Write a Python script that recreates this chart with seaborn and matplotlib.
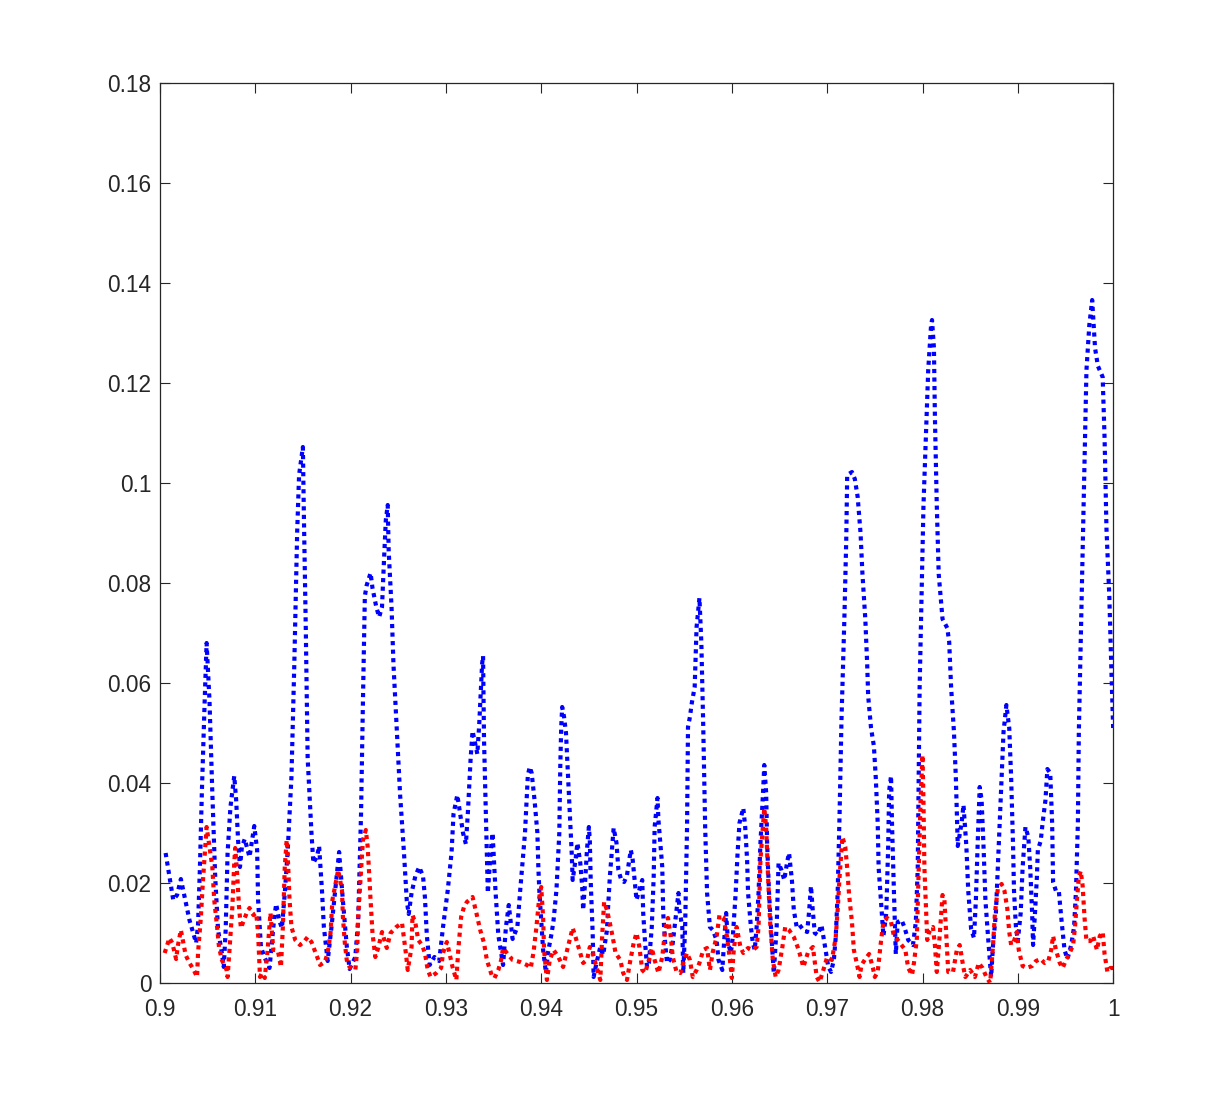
import numpy as np
import pandas as pd
import matplotlib
matplotlib.use("Agg")
import matplotlib.pyplot as plt
import seaborn as sns

# blue series (upper dotted curve)
blue_x = [0.9006, 0.9014, 0.9018, 0.9022, 0.9026, 0.9031, 0.9038, 0.9040, 0.9042, 0.9044,
          0.9047, 0.9049, 0.9052, 0.9055, 0.9058, 0.9061, 0.9065, 0.9067, 0.9069, 0.9071,
          0.9074, 0.9078, 0.9080, 0.9082, 0.9084, 0.9086, 0.9089, 0.9094, 0.9099, 0.9102,
          0.9103, 0.9106, 0.9110, 0.9115, 0.9120, 0.9122, 0.9125, 0.9128, 0.9131, 0.9134,
          0.9138, 0.9141, 0.9144, 0.9146, 0.9150, 0.9151, 0.9153, 0.9155, 0.9159, 0.9161,
          0.9165, 0.9167, 0.9170, 0.9172, 0.9176, 0.9180, 0.9184, 0.9188, 0.9192, 0.9196,
          0.9199, 0.9205, 0.9208, 0.9211, 0.9213, 0.9215, 0.9217, 0.9221, 0.9223, 0.9227,
          0.9230, 0.9233, 0.9235, 0.9237, 0.9239, 0.9240, 0.9243, 0.9245, 0.9249, 0.9252,
          0.9256, 0.9259, 0.9261, 0.9264, 0.9268, 0.9272, 0.9276, 0.9278, 0.9280, 0.9283,
          0.9288, 0.9293, 0.9297, 0.9302, 0.9306, 0.9308, 0.9312, 0.9315, 0.9318, 0.9321,
          0.9323, 0.9326, 0.9328, 0.9333, 0.9335, 0.9338, 0.9339, 0.9340, 0.9342, 0.9344,
          0.9347, 0.9349, 0.9352, 0.9355, 0.9360, 0.9363, 0.9366, 0.9370, 0.9375, 0.9378,
          0.9383, 0.9386, 0.9388, 0.9390, 0.9391, 0.9393, 0.9396, 0.9397, 0.9398, 0.9400,
          0.9402, 0.9405, 0.9407, 0.9411, 0.9413, 0.9416, 0.9419, 0.9420, 0.9421, 0.9422,
          0.9424, 0.9426, 0.9428, 0.9430, 0.9432, 0.9433, 0.9436, 0.9438, 0.9441, 0.9443,
          0.9444, 0.9446, 0.9448, 0.9450, 0.9451, 0.9452, 0.9454, 0.9455, 0.9458, 0.9462,
          0.9465, 0.9469, 0.9470, 0.9472, 0.9474, 0.9476, 0.9479, 0.9481, 0.9484, 0.9487,
          0.9490, 0.9494, 0.9496, 0.9498, 0.9500, 0.9502, 0.9506, 0.9507, 0.9509, 0.9511,
          0.9513, 0.9516, 0.9518, 0.9519, 0.9522, 0.9523, 0.9527, 0.9528, 0.9530, 0.9532,
          0.9535, 0.9538, 0.9542, 0.9544, 0.9545, 0.9548, 0.9549, 0.9551, 0.9553, 0.9554,
          0.9556, 0.9558, 0.9561, 0.9563, 0.9566, 0.9568, 0.9570, 0.9572, 0.9574, 0.9577,
          0.9580, 0.9584, 0.9586, 0.9590, 0.9592, 0.9594, 0.9596, 0.9599, 0.9601, 0.9604,
          0.9606, 0.9608, 0.9612, 0.9614, 0.9616, 0.9617, 0.9620, 0.9622, 0.9624, 0.9626,
          0.9628, 0.9630, 0.9633, 0.9634, 0.9636, 0.9637, 0.9639, 0.9642, 0.9644, 0.9647,
          0.9649, 0.9652, 0.9655, 0.9658, 0.9660, 0.9663, 0.9665, 0.9668, 0.9671, 0.9675,
          0.9679, 0.9681, 0.9683, 0.9685, 0.9687, 0.9690, 0.9694, 0.9698, 0.9701, 0.9704,
          0.9707, 0.9709, 0.9711, 0.9713, 0.9715, 0.9718, 0.9720, 0.9721, 0.9726, 0.9729,
          0.9732, 0.9735, 0.9737, 0.9740, 0.9742, 0.9743, 0.9746, 0.9749, 0.9751, 0.9753,
          0.9754, 0.9756, 0.9759, 0.9762, 0.9764, 0.9765, 0.9767, 0.9768, 0.9770, 0.9772,
          0.9774, 0.9778, 0.9781, 0.9785, 0.9790, 0.9793, 0.9795, 0.9796, 0.9797, 0.9799,
          0.9801, 0.9804, 0.9806, 0.9809, 0.9810, 0.9812, 0.9813, 0.9815, 0.9817, 0.9821,
          0.9826, 0.9828, 0.9830, 0.9833, 0.9835, 0.9837, 0.9841, 0.9843, 0.9846, 0.9848,
          0.9851, 0.9854, 0.9856, 0.9858, 0.9860, 0.9862, 0.9864, 0.9866, 0.9869, 0.9872,
          0.9874, 0.9877, 0.9880, 0.9883, 0.9885, 0.9888, 0.9891, 0.9893, 0.9895, 0.9896,
          0.9898, 0.9900, 0.9903, 0.9905, 0.9908, 0.9911, 0.9913, 0.9915, 0.9916, 0.9918,
          0.9920, 0.9921, 0.9924, 0.9926, 0.9929, 0.9931, 0.9934, 0.9936, 0.9937, 0.9940,
          0.9943, 0.9946, 0.9949, 0.9952, 0.9956, 0.9959, 0.9961, 0.9963, 0.9964, 0.9966,
          0.9968, 0.9970, 0.9972, 0.9975, 0.9978, 0.9979, 0.9981, 0.9984, 0.9989, 0.9991,
          0.9993, 0.9996, 0.9998, 1.0000]
blue_y = [0.0260, 0.0166, 0.0176, 0.0208, 0.0172, 0.0126, 0.0080, 0.0116, 0.0232, 0.0380,
          0.0566, 0.0680, 0.0566, 0.0380, 0.0212, 0.0106, 0.0060, 0.0032, 0.0106, 0.0260,
          0.0352, 0.0414, 0.0366, 0.0286, 0.0232, 0.0272, 0.0288, 0.0252, 0.0314, 0.0266,
          0.0166, 0.0072, 0.0050, 0.0030, 0.0132, 0.0158, 0.0126, 0.0110, 0.0180, 0.0262,
          0.0412, 0.0638, 0.0902, 0.1016, 0.1072, 0.0940, 0.0714, 0.0450, 0.0300, 0.0240,
          0.0254, 0.0274, 0.0186, 0.0112, 0.0044, 0.0112, 0.0186, 0.0262, 0.0164, 0.0074,
          0.0028, 0.0052, 0.0126, 0.0338, 0.0564, 0.0774, 0.0796, 0.0820, 0.0790, 0.0752,
          0.0732, 0.0752, 0.0842, 0.0926, 0.0956, 0.0864, 0.0752, 0.0638, 0.0488, 0.0376,
          0.0262, 0.0164, 0.0138, 0.0180, 0.0214, 0.0232, 0.0214, 0.0172, 0.0096, 0.0036,
          0.0052, 0.0044, 0.0112, 0.0186, 0.0262, 0.0338, 0.0376, 0.0338, 0.0300, 0.0278,
          0.0338, 0.0450, 0.0504, 0.0458, 0.0518, 0.0638, 0.0654, 0.0488, 0.0338, 0.0180,
          0.0262, 0.0300, 0.0186, 0.0096, 0.0036, 0.0112, 0.0156, 0.0088, 0.0112, 0.0186,
          0.0300, 0.0416, 0.0432, 0.0420, 0.0402, 0.0366, 0.0300, 0.0232, 0.0186, 0.0126,
          0.0066, 0.0020, 0.0060, 0.0100, 0.0126, 0.0186, 0.0300, 0.0432, 0.0512, 0.0552,
          0.0532, 0.0500, 0.0420, 0.0340, 0.0260, 0.0206, 0.0246, 0.0280, 0.0240, 0.0192,
          0.0146, 0.0200, 0.0266, 0.0312, 0.0286, 0.0200, 0.0100, 0.0012, 0.0040, 0.0072,
          0.0056, 0.0106, 0.0146, 0.0212, 0.0260, 0.0310, 0.0280, 0.0226, 0.0206, 0.0202,
          0.0216, 0.0266, 0.0246, 0.0206, 0.0166, 0.0180, 0.0206, 0.0140, 0.0080, 0.0032,
          0.0040, 0.0112, 0.0212, 0.0312, 0.0370, 0.0326, 0.0232, 0.0140, 0.0080, 0.0040,
          0.0046, 0.0080, 0.0146, 0.0180, 0.0146, 0.0112, 0.0020, 0.0112, 0.0312, 0.0512,
          0.0532, 0.0560, 0.0592, 0.0712, 0.0770, 0.0680, 0.0512, 0.0312, 0.0180, 0.0112,
          0.0106, 0.0086, 0.0046, 0.0026, 0.0086, 0.0140, 0.0080, 0.0060, 0.0092, 0.0180,
          0.0260, 0.0320, 0.0350, 0.0312, 0.0246, 0.0180, 0.0112, 0.0080, 0.0066, 0.0112,
          0.0180, 0.0280, 0.0392, 0.0436, 0.0380, 0.0280, 0.0180, 0.0080, 0.0020, 0.0112,
          0.0240, 0.0226, 0.0206, 0.0242, 0.0260, 0.0206, 0.0146, 0.0112, 0.0116, 0.0106,
          0.0102, 0.0142, 0.0194, 0.0142, 0.0100, 0.0096, 0.0116, 0.0070, 0.0034, 0.0022,
          0.0046, 0.0092, 0.0180, 0.0336, 0.0526, 0.0726, 0.0886, 0.1016, 0.1022, 0.1008,
          0.0972, 0.0900, 0.0818, 0.0728, 0.0636, 0.0574, 0.0510, 0.0474, 0.0410, 0.0320,
          0.0230, 0.0176, 0.0094, 0.0140, 0.0274, 0.0384, 0.0414, 0.0320, 0.0184, 0.0058,
          0.0122, 0.0126, 0.0112, 0.0086, 0.0076, 0.0122, 0.0230, 0.0410, 0.0592, 0.0772,
          0.0954, 0.1116, 0.1226, 0.1316, 0.1326, 0.1270, 0.1134, 0.0954, 0.0818, 0.0728,
          0.0710, 0.0682, 0.0592, 0.0502, 0.0410, 0.0274, 0.0320, 0.0356, 0.0274, 0.0184,
          0.0108, 0.0090, 0.0166, 0.0286, 0.0392, 0.0366, 0.0274, 0.0166, 0.0086, 0.0012,
          0.0076, 0.0140, 0.0274, 0.0410, 0.0502, 0.0556, 0.0510, 0.0410, 0.0274, 0.0184,
          0.0112, 0.0084, 0.0140, 0.0230, 0.0312, 0.0292, 0.0230, 0.0140, 0.0076, 0.0140,
          0.0212, 0.0266, 0.0284, 0.0320, 0.0366, 0.0428, 0.0420, 0.0320, 0.0202, 0.0184,
          0.0184, 0.0122, 0.0066, 0.0048, 0.0076, 0.0112, 0.0184, 0.0320, 0.0502, 0.0682,
          0.0864, 0.1044, 0.1226, 0.1316, 0.1366, 0.1334, 0.1270, 0.1234, 0.1212, 0.1090,
          0.0908, 0.0772, 0.0636, 0.0510]

# red series (lower dotted curve)
red_x = [0.9005, 0.9010, 0.9013, 0.9017, 0.9019, 0.9022, 0.9024, 0.9027, 0.9031, 0.9035,
         0.9039, 0.9040, 0.9043, 0.9045, 0.9048, 0.9049, 0.9051, 0.9055, 0.9057, 0.9060,
         0.9062, 0.9065, 0.9070, 0.9071, 0.9073, 0.9076, 0.9078, 0.9079, 0.9081, 0.9083,
         0.9085, 0.9087, 0.9091, 0.9094, 0.9098, 0.9101, 0.9103, 0.9105, 0.9107, 0.9110,
         0.9113, 0.9116, 0.9119, 0.9122, 0.9124, 0.9127, 0.9129, 0.9131, 0.9133, 0.9134,
         0.9136, 0.9138, 0.9142, 0.9147, 0.9151, 0.9155, 0.9159, 0.9165, 0.9168, 0.9173,
         0.9176, 0.9179, 0.9181, 0.9185, 0.9187, 0.9188, 0.9191, 0.9192, 0.9194, 0.9196,
         0.9199, 0.9205, 0.9207, 0.9208, 0.9211, 0.9213, 0.9216, 0.9218, 0.9221, 0.9223,
         0.9226, 0.9229, 0.9233, 0.9238, 0.9242, 0.9248, 0.9254, 0.9258, 0.9260, 0.9264,
         0.9265, 0.9268, 0.9271, 0.9275, 0.9278, 0.9281, 0.9284, 0.9290, 0.9295, 0.9297,
         0.9301, 0.9303, 0.9307, 0.9311, 0.9313, 0.9316, 0.9319, 0.9322, 0.9328, 0.9332,
         0.9336, 0.9340, 0.9343, 0.9348, 0.9351, 0.9355, 0.9358, 0.9360, 0.9364, 0.9370,
         0.9378, 0.9385, 0.9389, 0.9392, 0.9395, 0.9398, 0.9400, 0.9402, 0.9403, 0.9406,
         0.9409, 0.9413, 0.9418, 0.9423, 0.9428, 0.9433, 0.9436, 0.9440, 0.9444, 0.9448,
         0.9451, 0.9454, 0.9458, 0.9462, 0.9464, 0.9466, 0.9469, 0.9472, 0.9475, 0.9478,
         0.9483, 0.9486, 0.9490, 0.9493, 0.9497, 0.9500, 0.9503, 0.9506, 0.9509, 0.9513,
         0.9516, 0.9519, 0.9523, 0.9527, 0.9530, 0.9533, 0.9536, 0.9538, 0.9542, 0.9546,
         0.9549, 0.9553, 0.9556, 0.9559, 0.9563, 0.9566, 0.9570, 0.9574, 0.9577, 0.9580,
         0.9584, 0.9587, 0.9591, 0.9595, 0.9598, 0.9600, 0.9602, 0.9605, 0.9609, 0.9612,
         0.9617, 0.9622, 0.9626, 0.9628, 0.9630, 0.9633, 0.9634, 0.9636, 0.9638, 0.9640,
         0.9643, 0.9646, 0.9649, 0.9653, 0.9656, 0.9660, 0.9665, 0.9669, 0.9671, 0.9675,
         0.9680, 0.9685, 0.9689, 0.9692, 0.9696, 0.9700, 0.9705, 0.9709, 0.9711, 0.9713,
         0.9716, 0.9719, 0.9721, 0.9723, 0.9726, 0.9728, 0.9731, 0.9734, 0.9736, 0.9740,
         0.9744, 0.9748, 0.9750, 0.9753, 0.9756, 0.9759, 0.9763, 0.9767, 0.9770, 0.9774,
         0.9778, 0.9782, 0.9785, 0.9789, 0.9791, 0.9794, 0.9796, 0.9798, 0.9800, 0.9801,
         0.9802, 0.9805, 0.9807, 0.9811, 0.9813, 0.9815, 0.9818, 0.9821, 0.9823, 0.9825,
         0.9827, 0.9832, 0.9836, 0.9839, 0.9843, 0.9845, 0.9850, 0.9855, 0.9859, 0.9863,
         0.9867, 0.9871, 0.9874, 0.9876, 0.9879, 0.9883, 0.9886, 0.9889, 0.9891, 0.9893,
         0.9896, 0.9899, 0.9901, 0.9905, 0.9909, 0.9915, 0.9919, 0.9924, 0.9928, 0.9932,
         0.9935, 0.9937, 0.9940, 0.9944, 0.9947, 0.9951, 0.9954, 0.9958, 0.9960, 0.9962,
         0.9964, 0.9966, 0.9968, 0.9970, 0.9972, 0.9976, 0.9979, 0.9983, 0.9986, 0.9989,
         0.9991, 0.9994, 0.9997, 1.0000]
red_y = [0.0060, 0.0090, 0.0080, 0.0048, 0.0076, 0.0106, 0.0086, 0.0056, 0.0040, 0.0028,
         0.0012, 0.0060, 0.0132, 0.0200, 0.0286, 0.0312, 0.0286, 0.0232, 0.0166, 0.0112,
         0.0072, 0.0046, 0.0026, 0.0012, 0.0066, 0.0152, 0.0240, 0.0270, 0.0220, 0.0152,
         0.0110, 0.0120, 0.0140, 0.0150, 0.0136, 0.0140, 0.0100, 0.0012, 0.0020, 0.0010,
         0.0066, 0.0140, 0.0066, 0.0066, 0.0062, 0.0032, 0.0112, 0.0232, 0.0286, 0.0260,
         0.0166, 0.0112, 0.0086, 0.0076, 0.0082, 0.0092, 0.0082, 0.0052, 0.0036, 0.0042,
         0.0060, 0.0100, 0.0166, 0.0206, 0.0226, 0.0216, 0.0186, 0.0132, 0.0080, 0.0046,
         0.0032, 0.0026, 0.0066, 0.0132, 0.0226, 0.0286, 0.0306, 0.0272, 0.0166, 0.0100,
         0.0052, 0.0070, 0.0102, 0.0070, 0.0100, 0.0112, 0.0120, 0.0060, 0.0026, 0.0072,
         0.0136, 0.0120, 0.0086, 0.0076, 0.0060, 0.0026, 0.0012, 0.0020, 0.0030, 0.0060,
         0.0082, 0.0066, 0.0032, 0.0006, 0.0066, 0.0132, 0.0152, 0.0162, 0.0172, 0.0140,
         0.0106, 0.0080, 0.0046, 0.0016, 0.0010, 0.0026, 0.0046, 0.0070, 0.0060, 0.0046,
         0.0042, 0.0036, 0.0030, 0.0062, 0.0112, 0.0172, 0.0192, 0.0132, 0.0066, 0.0006,
         0.0046, 0.0066, 0.0052, 0.0032, 0.0072, 0.0110, 0.0092, 0.0066, 0.0040, 0.0046,
         0.0072, 0.0060, 0.0032, 0.0006, 0.0096, 0.0162, 0.0146, 0.0120, 0.0092, 0.0060,
         0.0046, 0.0020, 0.0006, 0.0040, 0.0080, 0.0100, 0.0072, 0.0026, 0.0020, 0.0046,
         0.0070, 0.0046, 0.0020, 0.0052, 0.0106, 0.0130, 0.0092, 0.0052, 0.0022, 0.0020,
         0.0040, 0.0060, 0.0046, 0.0012, 0.0026, 0.0040, 0.0066, 0.0070, 0.0026, 0.0062,
         0.0092, 0.0136, 0.0132, 0.0092, 0.0046, 0.0010, 0.0066, 0.0112, 0.0072, 0.0060,
         0.0070, 0.0066, 0.0072, 0.0112, 0.0246, 0.0326, 0.0350, 0.0312, 0.0212, 0.0126,
         0.0046, 0.0012, 0.0026, 0.0072, 0.0112, 0.0106, 0.0092, 0.0072, 0.0060, 0.0032,
         0.0062, 0.0072, 0.0012, 0.0002, 0.0026, 0.0052, 0.0046, 0.0092, 0.0146, 0.0212,
         0.0292, 0.0272, 0.0230, 0.0176, 0.0122, 0.0066, 0.0040, 0.0012, 0.0036, 0.0048,
         0.0058, 0.0030, 0.0012, 0.0022, 0.0076, 0.0122, 0.0130, 0.0122, 0.0094, 0.0086,
         0.0076, 0.0066, 0.0030, 0.0016, 0.0040, 0.0086, 0.0230, 0.0366, 0.0456, 0.0366,
         0.0230, 0.0086, 0.0102, 0.0112, 0.0076, 0.0022, 0.0094, 0.0176, 0.0166, 0.0094,
         0.0022, 0.0022, 0.0066, 0.0076, 0.0030, 0.0012, 0.0026, 0.0012, 0.0040, 0.0030,
         0.0012, 0.0000, 0.0076, 0.0140, 0.0188, 0.0198, 0.0184, 0.0148, 0.0102, 0.0076,
         0.0084, 0.0102, 0.0066, 0.0034, 0.0030, 0.0034, 0.0044, 0.0048, 0.0040, 0.0044,
         0.0066, 0.0094, 0.0066, 0.0040, 0.0030, 0.0048, 0.0058, 0.0076, 0.0112, 0.0166,
         0.0212, 0.0224, 0.0194, 0.0130, 0.0084, 0.0084, 0.0094, 0.0066, 0.0094, 0.0102,
         0.0058, 0.0022, 0.0030, 0.0030]

x_ticks = [0.9, 0.91, 0.92, 0.93, 0.94, 0.95, 0.96, 0.97, 0.98, 0.99, 1.0]
x_tick_labels = ["0.9", "0.91", "0.92", "0.93", "0.94", "0.95", "0.96", "0.97", "0.98", "0.99", "1"]
y_ticks = [0, 0.02, 0.04, 0.06, 0.08, 0.1, 0.12, 0.14, 0.16, 0.18]
y_tick_labels = ["0", "0.02", "0.04", "0.06", "0.08", "0.1", "0.12", "0.14", "0.16", "0.18"]

plt.rcParams['font.family'] = ['Liberation Sans', 'DejaVu Sans']

fig = plt.figure(figsize=(12.3, 11.04), dpi=100)
ax = fig.add_axes([0.13, 0.1096, 0.775, 0.8152])

dot = (0, (1, 1.05))
sns.lineplot(x=blue_x, y=blue_y, ax=ax, color=(0, 0, 1), linestyle=dot,
             linewidth=3, estimator=None, sort=False)
sns.lineplot(x=red_x, y=red_y, ax=ax, color=(1, 0, 0), linestyle=dot,
             linewidth=3, estimator=None, sort=False)

ax.set_xlim(0.9, 1.0)
ax.set_ylim(0, 0.18)
ax.set_xticks(x_ticks)
ax.set_xticklabels(x_tick_labels)
ax.set_yticks(y_ticks)
ax.set_yticklabels(y_tick_labels)

dark = (0.15, 0.15, 0.15)
ax.tick_params(direction='in', length=7, width=0.8, color=dark, labelcolor=dark,
               labelsize=16.3, top=True, right=True)
ax.tick_params(axis='x', pad=10.5)
ax.tick_params(axis='y', pad=6)
for s in ax.spines.values():
    s.set_color(dark)
    s.set_linewidth(0.9)

fig.savefig("out.png", dpi=100)
